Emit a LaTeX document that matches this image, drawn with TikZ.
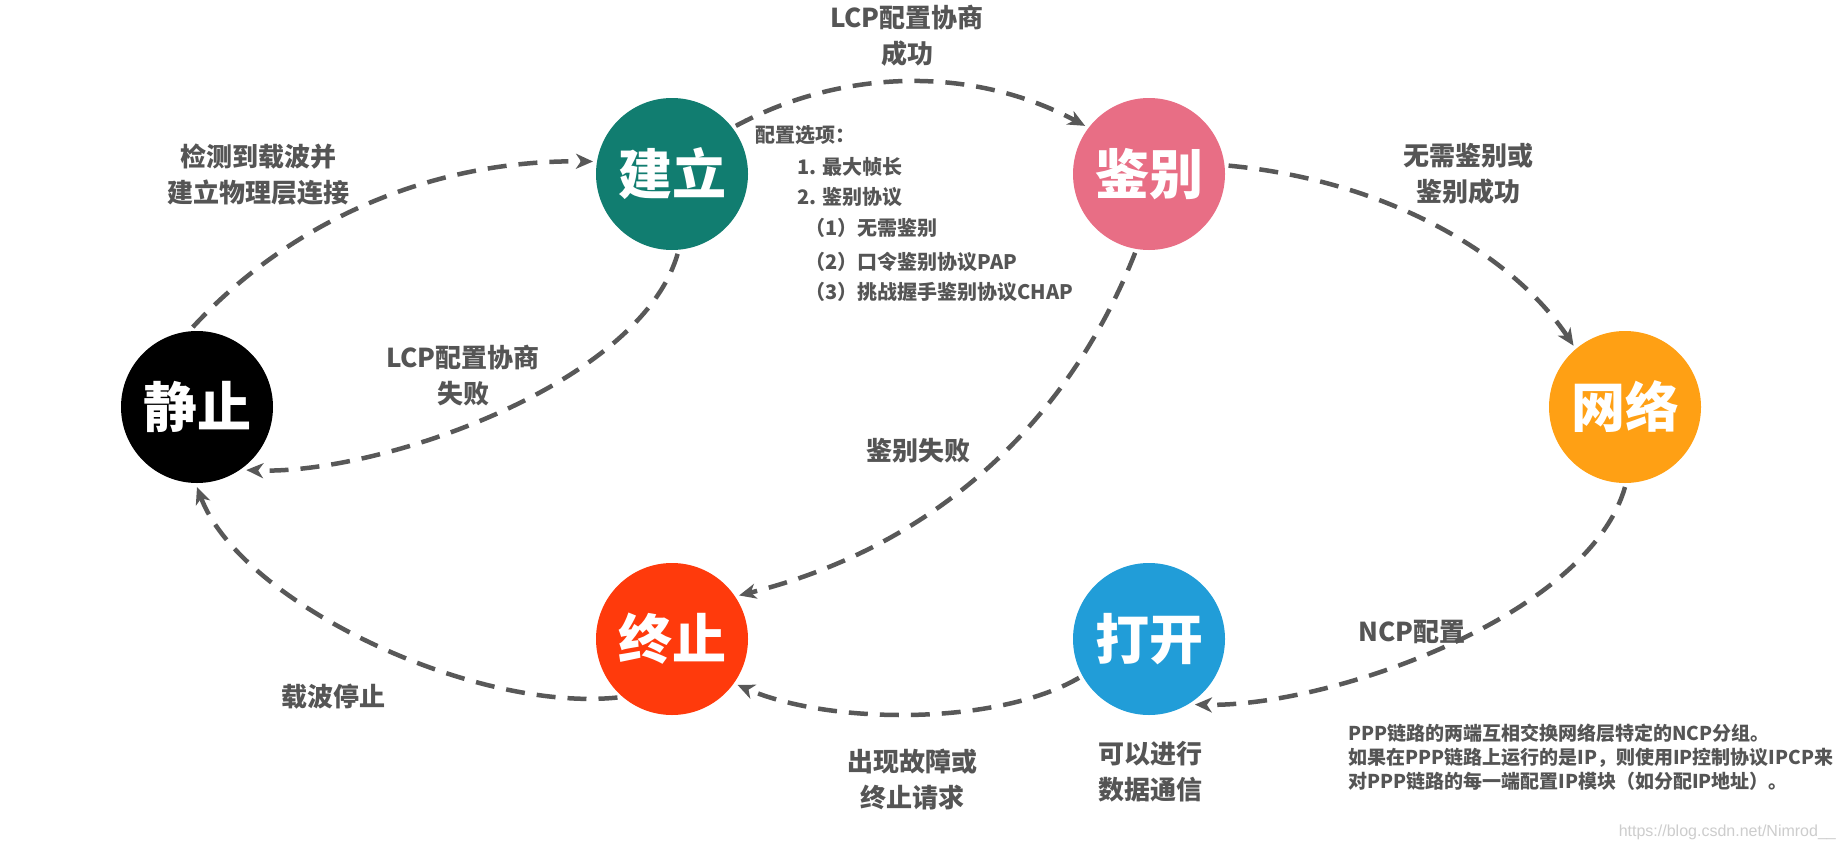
\documentclass[tikz,border=0pt]{standalone}
\usepackage{fontspec}
\newfontfamily\cjk{Noto Sans CJK SC}
\newfontfamily\wmfont{Liberation Sans}
\usetikzlibrary{arrows.meta}
\definecolor{tealc}{RGB}{17,125,112}
\definecolor{pinkc}{RGB}{232,110,133}
\definecolor{orangec}{RGB}{255,160,20}
\definecolor{redc}{RGB}{255,58,12}
\definecolor{bluec}{RGB}{33,157,216}
\definecolor{labelgray}{RGB}{85,85,85}
\definecolor{arrowgray}{RGB}{88,88,88}
\definecolor{wmgray}{RGB}{205,205,205}
\begin{document}
\begin{tikzpicture}[x=1pt,y=-1pt,
  state/.style={circle, minimum size=152pt, inner sep=0pt, outer sep=4pt, text=white,
    font=\cjk\bfseries\fontsize{54}{60}\selectfont},
  lbl/.style={text=labelgray, align=center, inner sep=0pt,
    font=\cjk\bfseries\fontsize{26}{36}\selectfont},
  opt/.style={text=labelgray, anchor=west, inner sep=0pt,
    font=\cjk\bfseries\fontsize{20}{24}\selectfont},
  note/.style={text=labelgray, anchor=west, inner sep=0pt,
    font=\cjk\bfseries\fontsize{19}{23}\selectfont},
  conn/.style={draw=arrowgray, line width=4.5pt, dash pattern=on 19pt off 12pt,
    -{Stealth[length=17pt,width=15pt,inset=5pt]}},
]
\fill[white] (0,0) rectangle (1845,849);
\useasboundingbox (0,0) rectangle (1845,849);

% states
\node[state, fill=black]   (jz) at (197,407)  {静止};
\node[state, fill=tealc]   (jl) at (672,174)  {建立};
\node[state, fill=pinkc]   (jb) at (1149,174) {鉴别};
\node[state, fill=orangec] (wl) at (1625,407) {网络};
\node[state, fill=redc]    (zz) at (672,639)  {终止};
\node[state, fill=bluec]   (dk) at (1149,639) {打开};

% connectors
\draw[conn] (jz.93)   .. controls +(97,-105) and +(-163,-2) .. (jl.171);
\draw[conn] (jl.-86)  .. controls +(-37,130) and +(133,5)   .. (jz.-52);
\draw[conn] (jl.37.6) .. controls +(110,-59) and +(-110,-59) .. (jb.143.7);
\draw[conn] (jb.6.8)  .. controls +(160,15)  and +(-60,-90)  .. (wl.130.5);
\draw[conn] (jb.-100) .. controls +(-65,165) and +(200,-50)  .. (zz.33);
\draw[conn] (wl.-90)  .. controls +(-37,130) and +(133,3)   .. (dk.-55);
\draw[conn] (dk.209.6).. controls +(-82,48)  and +(92,40)    .. (zz.-35);
\draw[conn] (zz.-133) .. controls +(-145,15) and +(43,115)   .. (jz.-90);

% labels
\node[lbl] (l1) at (258,174.5) {检测到载波并\\建立物理层连接};
\node[lbl] (l2) at (463,376) {LCP配置协商\\失败};
\node[lbl] (l3) at (907,36) {LCP配置协商\\成功};
\node[lbl] (l4) at (1468,174) {无需鉴别或\\鉴别成功};
\node[lbl] (l5) at (918,451) {鉴别失败};
\node[lbl] (l6) at (1412,632) {NCP配置};
\node[lbl] (l7) at (912,780) {出现故障或\\终止请求};
\node[lbl] (l8) at (333,697) {载波停止};
\node[lbl] (l9) at (1150,772) {可以进行\\数据通信};

% options
\node[opt] (o0) at (755,135) {配置选项：};
\node[opt] (o1) at (797,167) {1. 最大帧长};
\node[opt] (o2) at (797,197) {2. 鉴别协议};
\node[opt] (o3) at (805,228) {（1）无需鉴别};
\node[opt] (o4) at (805,262) {（2）口令鉴别协议PAP};
\node[opt] (o5) at (805,292) {（3）挑战握手鉴别协议CHAP};

% NCP note
\node[note] (n1) at (1348,733) {PPP链路的两端互相交换网络层特定的NCP分组。};
\node[note] (n2) at (1348,758) {如果在PPP链路上运行的是IP，则使用IP控制协议IPCP来};
\node[note] (n3) at (1348,781) {对PPP链路的每一端配置IP模块（如分配IP地址）。};

% watermark
\node[anchor=east, inner sep=0pt, text=wmgray, font=\wmfont\fontsize{16}{18}\selectfont] (wm) at (1836,832) {https://blog.csdn.net/Nimrod\_\_};
\end{tikzpicture}
\end{document}
